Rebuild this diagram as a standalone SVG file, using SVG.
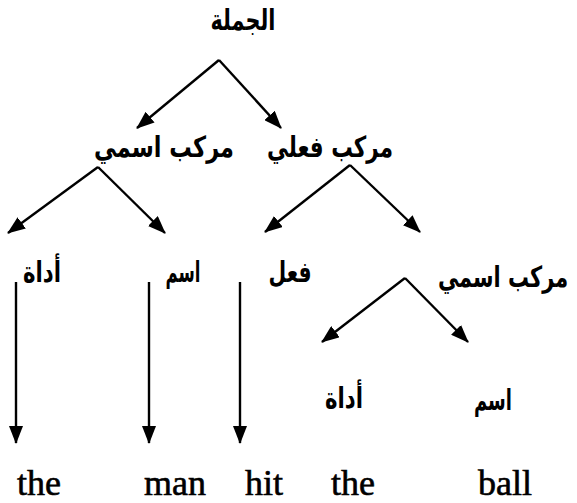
<svg xmlns="http://www.w3.org/2000/svg" width="577" height="503" viewBox="0 0 577 503">
<style>
.ar{font-family:"DejaVu Sans",sans-serif;font-weight:bold;font-size:29px;fill:#000;text-anchor:middle}
.en{font-family:"Liberation Serif",serif;font-size:36px;fill:#000;stroke:#000;stroke-width:0.6}
.c{stroke:#000;stroke-width:2.4;fill:none;marker-end:url(#ah)}
</style>
<defs>
<marker id="ah" markerUnits="userSpaceOnUse" markerWidth="18" markerHeight="14" refX="17" refY="7" orient="auto">
<path d="M0,0 L18,7 L0,14 z" fill="#000"/>
</marker>
</defs>
<rect width="577" height="503" fill="#fff"/>
<g id="connectors">
<polyline class="c" points="219,60 137,128"/>
<polyline class="c" points="219,60 281,128"/>
<polyline class="c" points="98,167 8,233"/>
<polyline class="c" points="98,167 165,233"/>
<polyline class="c" points="350,165 265,232"/>
<polyline class="c" points="350,165 420,232"/>
<polyline class="c" points="405,278 322,342"/>
<polyline class="c" points="405,278 468,342"/>
<line class="c" x1="16" y1="282" x2="16" y2="443"/>
<line class="c" x1="149" y1="282" x2="149" y2="443"/>
<line class="c" x1="240" y1="282" x2="240" y2="443"/>
</g>
<g id="n-sentence"><text class="ar" x="243" y="30" textLength="65" lengthAdjust="spacingAndGlyphs">الجملة</text></g>
<g id="n-np1"><text class="ar" x="164" y="157" textLength="140" lengthAdjust="spacingAndGlyphs">مركب اسمي</text></g>
<g id="n-vp"><text class="ar" x="330" y="157" textLength="126" lengthAdjust="spacingAndGlyphs">مركب فعلي</text></g>
<g id="n-det1"><text class="ar" x="42" y="282" textLength="38" lengthAdjust="spacingAndGlyphs">أداة</text></g>
<g id="n-n1"><text class="ar" x="183" y="282" textLength="35" lengthAdjust="spacingAndGlyphs">اسم</text></g>
<g id="n-v"><text class="ar" x="290" y="282" textLength="43" lengthAdjust="spacingAndGlyphs">فعل</text></g>
<g id="n-np2"><text class="ar" transform="translate(503,287) scale(0.72,1)" x="0" y="0">مركب اسمي</text></g>
<g id="n-det2"><text class="ar" x="344" y="408" textLength="38" lengthAdjust="spacingAndGlyphs">أداة</text></g>
<g id="n-n2"><text class="ar" x="493" y="410" textLength="38" lengthAdjust="spacingAndGlyphs">اسم</text></g>
<g id="w-the1"><text class="en" x="17" y="495">the</text></g>
<g id="w-man"><text class="en" x="144" y="495">man</text></g>
<g id="w-hit"><text class="en" x="245" y="495">hit</text></g>
<g id="w-the2"><text class="en" x="331" y="495">the</text></g>
<g id="w-ball"><text class="en" x="478" y="495">ball</text></g>
</svg>
